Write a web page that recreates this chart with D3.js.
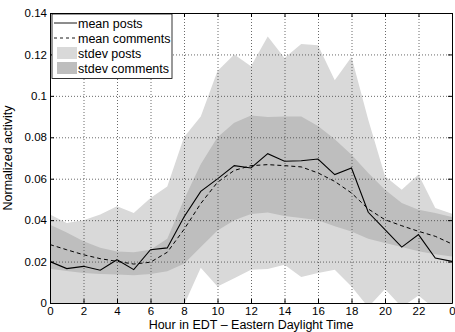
<!DOCTYPE html>
<html>
<head>
<meta charset="utf-8">
<script src="https://cdn.jsdelivr.net/npm/d3@7"></script>
<style>
    body { margin: 0; background: #fff; }
    text { font-family: "Liberation Sans", Arial, Helvetica, sans-serif; fill: #000; }
    .grid line { stroke: #444; stroke-width: 0.8; stroke-dasharray: 1,2; }
</style>
</head>
<body>
<div id="graph"></div>
<script>
// hours of the day, 24 wraps back to 0
var hours = [0,1,2,3,4,5,6,7,8,9,10,11,12,13,14,15,16,17,18,19,20,21,22,23,24];
var xTicks = [0,2,4,6,8,10,12,14,16,18,20,22,24];
var xTickLabels = ["0","2","4","6","8","10","12","14","16","18","20","22","0"];
var yTicks = [0,0.02,0.04,0.06,0.08,0.1,0.12,0.14];
var yTickLabels = ["0","0.02","0.04","0.06","0.08","0.1","0.12","0.14"];

var meanPosts = [0.0200,0.0166,0.0177,0.0158,0.0209,0.0161,0.0257,0.0266,0.0415,0.0539,0.0599,0.0663,0.0652,
    0.0721,0.0684,0.0687,0.0695,0.0620,0.0652,0.0438,0.0354,0.0270,0.0330,0.0217,0.0201];
var meanComments = [0.0282,0.0257,0.0233,0.0214,0.0201,0.0188,0.0197,0.0245,0.0355,0.0480,0.0583,0.0640,0.0663,
    0.0668,0.0663,0.0657,0.0628,0.0587,0.0531,0.0454,0.0402,0.0373,0.0346,0.0322,0.0285];
var postsUpper = [0.0427,0.0386,0.0400,0.0427,0.0467,0.0435,0.0507,0.0563,0.0800,0.0900,0.1120,0.1200,0.1143,
    0.1287,0.1183,0.1250,0.1244,0.1075,0.1188,0.0885,0.0612,0.0547,0.0620,0.0459,0.0431];
var postsLower = [-0.003,-0.005,-0.005,-0.011,-0.005,-0.011,-0.002,-0.003,-0.001,0.0170,0.0080,0.0120,0.0160,
    0.0164,0.0185,0.0126,0.0145,0.0160,0.0080,-0.002,0.0068,-0.002,0.0036,-0.003,-0.003];
var commentsUpper = [0.0378,0.0340,0.0298,0.0267,0.0249,0.0245,0.0257,0.0310,0.0500,0.0670,0.0800,0.0870,0.0905,
    0.0898,0.0900,0.0900,0.0855,0.0790,0.0716,0.0628,0.0547,0.0483,0.0450,0.0435,0.0415];
var commentsLower = [0.0165,0.0155,0.0145,0.0140,0.0137,0.0134,0.0140,0.0153,0.0190,0.0270,0.0350,0.0400,0.0430,
    0.0437,0.0420,0.0410,0.0400,0.0370,0.0345,0.0310,0.0290,0.0270,0.0250,0.0235,0.0225];

var lightGray = "#d9d9d9", darkGray = "#bebebe";

var margin = {top: 13, right: 3, bottom: 29, left: 50},
    width = 455 - margin.left - margin.right,
    height = 332 - margin.top - margin.bottom;

var xScale = d3.scaleLinear().domain([0, 24]).range([0, width]);
var yScale = d3.scaleLinear().domain([0, 0.14]).range([height, 0]);

var svg = d3.select("#graph").append("svg")
    .attr("width", 455)
    .attr("height", 332);

svg.append("defs").append("clipPath")
    .attr("id", "plotClip")
    .append("rect")
    .attr("width", width)
    .attr("height", height);

var g = svg.append("g")
    .attr("transform", "translate(" + margin.left + "," + margin.top + ")");

var plot = g.append("g").attr("clip-path", "url(#plotClip)");

function band(lower, upper) {
    return d3.area()
        .x(function(d, i) { return xScale(hours[i]); })
        .y0(function(d, i) { return yScale(lower[i]); })
        .y1(function(d, i) { return yScale(upper[i]); })(hours);
}

plot.append("path").attr("d", band(postsLower, postsUpper)).attr("fill", lightGray);
plot.append("path").attr("d", band(commentsLower, commentsUpper)).attr("fill", darkGray);

// dotted grid on top of the bands
g.append("g")
    .attr("class", "grid")
    .call(d3.axisBottom(xScale).tickValues(xTicks).tickSize(height).tickFormat(""))
    .call(function(s) { s.select(".domain").remove(); });
g.append("g")
    .attr("class", "grid")
    .call(d3.axisLeft(yScale).tickValues(yTicks).tickSize(-width).tickFormat(""))
    .call(function(s) { s.select(".domain").remove(); });

function line(values) {
    return d3.line()
        .x(function(d, i) { return xScale(hours[i]); })
        .y(function(d, i) { return yScale(values[i]); })(hours);
}

plot.append("path")
    .attr("d", line(meanComments))
    .attr("fill", "none")
    .attr("stroke", "#000")
    .attr("stroke-width", 1)
    .attr("stroke-dasharray", "4,3");
plot.append("path")
    .attr("d", line(meanPosts))
    .attr("fill", "none")
    .attr("stroke", "#000")
    .attr("stroke-width", 1.1);

// axes, MATLAB style: ticks inward on all four sides
function styleAxis(s) {
    s.select(".domain").attr("stroke", "#000");
    s.selectAll(".tick line").attr("stroke", "#000");
    s.selectAll(".tick text").style("font-size", "11.5px").style("font-family", "'Liberation Sans', Arial, sans-serif");
}

g.append("g")
    .attr("transform", "translate(0," + height + ")")
    .call(d3.axisBottom(xScale).tickValues(xTicks).tickSizeInner(-4).tickSizeOuter(0).tickPadding(4)
        .tickFormat(function(d, i) { return xTickLabels[i]; }))
    .call(styleAxis);
g.append("g")
    .call(d3.axisTop(xScale).tickValues(xTicks).tickSizeInner(-4).tickSizeOuter(0).tickFormat(""))
    .call(styleAxis);
g.append("g")
    .call(d3.axisLeft(yScale).tickValues(yTicks).tickSizeInner(-4).tickSizeOuter(0).tickPadding(3)
        .tickFormat(function(d, i) { return yTickLabels[i]; }))
    .call(styleAxis);
g.append("g")
    .attr("transform", "translate(" + width + ",0)")
    .call(d3.axisRight(yScale).tickValues(yTicks).tickSizeInner(-4).tickSizeOuter(0).tickFormat(""))
    .call(styleAxis);

// axis labels
g.append("text")
    .attr("x", width / 2)
    .attr("y", height + 26)
    .attr("text-anchor", "middle")
    .style("font-size", "12.5px")
    .text("Hour in EDT – Eastern Daylight Time");
g.append("text")
    .attr("transform", "rotate(-90)")
    .attr("x", -height / 2)
    .attr("y", -38)
    .attr("text-anchor", "middle")
    .style("font-size", "12.5px")
    .text("Normalized activity");

// legend
var legendItems = [
    {label: "mean posts", type: "line", dash: null},
    {label: "mean comments", type: "line", dash: "3,3"},
    {label: "stdev posts", type: "patch", color: lightGray},
    {label: "stdev comments", type: "patch", color: darkGray}
];

var legend = g.append("g").attr("transform", "translate(2,1)");
legend.append("rect")
    .attr("width", 120)
    .attr("height", 64.5)
    .attr("fill", "#fff")
    .attr("stroke", "#000")
    .attr("stroke-width", 0.8);

var rows = legend.selectAll(".row")
    .data(legendItems)
    .enter().append("g")
    .attr("class", "row")
    .attr("transform", function(d, i) { return "translate(0," + (9 + i * 15) + ")"; });

rows.filter(function(d) { return d.type === "line"; })
    .append("line")
    .attr("x1", 2).attr("x2", 25)
    .attr("stroke", "#000")
    .attr("stroke-width", 0.9)
    .attr("stroke-dasharray", function(d) { return d.dash; });

rows.filter(function(d) { return d.type === "patch"; })
    .append("rect")
    .attr("x", 5).attr("y", -6)
    .attr("width", 20).attr("height", 12)
    .attr("fill", function(d) { return d.color; });

rows.append("text")
    .attr("x", 26)
    .attr("y", 4.5)
    .style("font-size", "12.5px")
    .text(function(d) { return d.label; });
</script>
</body>
</html>
